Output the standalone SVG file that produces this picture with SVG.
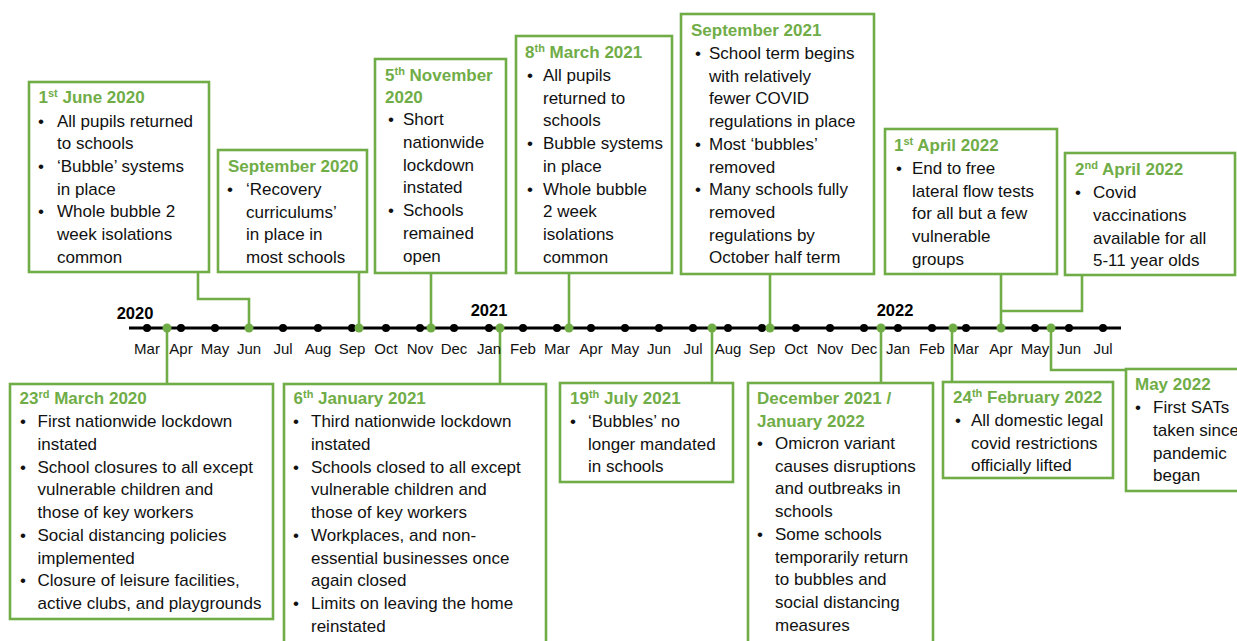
<svg xmlns="http://www.w3.org/2000/svg" width="1237" height="641" viewBox="0 0 1237 641">
  <style>
    .box { fill: #ffffff; stroke: #70AD47; stroke-width: 2.6; }
    .conn { fill: none; stroke: #70AD47; stroke-width: 2.6; }
    .axis { stroke: #000000; stroke-width: 3; }
    .tick { fill: #000000; }
    .mark { fill: #70AD47; }
    .t { font-family: "Liberation Sans", Arial, sans-serif; font-weight: bold; font-size: 17px; fill: #70AD47; }
    .b { font-family: "Liberation Sans", Arial, sans-serif; font-size: 17px; fill: #111111; }
    .dot { font-family: "Liberation Sans", Arial, sans-serif; font-size: 17px; fill: #111111; text-anchor: middle; }
    .sup { font-size: 11px; }
    .m { font-family: "Liberation Sans", Arial, sans-serif; font-size: 15px; fill: #111111; text-anchor: middle; }
    .yr { font-family: "Liberation Sans", Arial, sans-serif; font-weight: bold; font-size: 16.5px; fill: #000000; text-anchor: middle; }
  </style>

  <!-- connectors from each event box to its date on the axis -->
  <g id="connectors">
    <path class="conn" d="M198,273 V299 H249 V328"/>
    <path class="conn" d="M359,273 V328"/>
    <path class="conn" d="M431,274 V328"/>
    <path class="conn" d="M569,274 V328"/>
    <path class="conn" d="M770,275 V328"/>
    <path class="conn" d="M1001,275 V328"/>
    <path class="conn" d="M1082,276 V311 H1001"/>
    <path class="conn" d="M167,328 V383"/>
    <path class="conn" d="M500,328 V383"/>
    <path class="conn" d="M712,328 V382"/>
    <path class="conn" d="M881,328 V382"/>
    <path class="conn" d="M952,328 V381"/>
    <path class="conn" d="M1051,328 V370 H1126"/>
  </g>

  <!-- time axis -->
  <g id="axis">
    <line class="axis" x1="129" y1="328" x2="1121" y2="328"/>
    <g>
      <circle class="tick" cx="147" cy="328" r="4"/>
      <circle class="tick" cx="181" cy="328" r="4"/>
      <circle class="tick" cx="215" cy="328" r="4"/>
      <circle class="tick" cx="283" cy="328" r="4"/>
      <circle class="tick" cx="318" cy="328" r="4"/>
      <circle class="tick" cx="352" cy="328" r="4"/>
      <circle class="tick" cx="386" cy="328" r="4"/>
      <circle class="tick" cx="420" cy="328" r="4"/>
      <circle class="tick" cx="454" cy="328" r="4"/>
      <circle class="tick" cx="489" cy="328" r="4"/>
      <circle class="tick" cx="523" cy="328" r="4"/>
      <circle class="tick" cx="557" cy="328" r="4"/>
      <circle class="tick" cx="591" cy="328" r="4"/>
      <circle class="tick" cx="625" cy="328" r="4"/>
      <circle class="tick" cx="659" cy="328" r="4"/>
      <circle class="tick" cx="693" cy="328" r="4"/>
      <circle class="tick" cx="728" cy="328" r="4"/>
      <circle class="tick" cx="762" cy="328" r="4"/>
      <circle class="tick" cx="796" cy="328" r="4"/>
      <circle class="tick" cx="830" cy="328" r="4"/>
      <circle class="tick" cx="864" cy="328" r="4"/>
      <circle class="tick" cx="898" cy="328" r="4"/>
      <circle class="tick" cx="932" cy="328" r="4"/>
      <circle class="tick" cx="966" cy="328" r="4"/>
      <circle class="tick" cx="1035" cy="328" r="4"/>
      <circle class="tick" cx="1069" cy="328" r="4"/>
      <circle class="tick" cx="1103" cy="328" r="4"/>
    </g>
    <g>
      <circle class="mark" cx="167" cy="328" r="4.5"/>
      <circle class="mark" cx="249" cy="328" r="4.5"/>
      <circle class="mark" cx="359" cy="328" r="4.5"/>
      <circle class="mark" cx="431" cy="328" r="4.5"/>
      <circle class="mark" cx="500" cy="328" r="4.5"/>
      <circle class="mark" cx="569" cy="328" r="4.5"/>
      <circle class="mark" cx="712" cy="328" r="4.5"/>
      <circle class="mark" cx="770" cy="328" r="4.5"/>
      <circle class="mark" cx="881" cy="328" r="4.5"/>
      <circle class="mark" cx="953" cy="328" r="4.5"/>
      <circle class="mark" cx="1001" cy="328" r="4.5"/>
      <circle class="mark" cx="1051" cy="328" r="4.5"/>
    </g>
    <text class="yr" x="135" y="319">2020</text>
    <text class="yr" x="489" y="316">2021</text>
    <text class="yr" x="895" y="316">2022</text>
    <g>
      <text class="m" x="147" y="354">Mar</text>
      <text class="m" x="181" y="354">Apr</text>
      <text class="m" x="215" y="354">May</text>
      <text class="m" x="249" y="354">Jun</text>
      <text class="m" x="283" y="354">Jul</text>
      <text class="m" x="318" y="354">Aug</text>
      <text class="m" x="352" y="354">Sep</text>
      <text class="m" x="386" y="354">Oct</text>
      <text class="m" x="420" y="354">Nov</text>
      <text class="m" x="454" y="354">Dec</text>
      <text class="m" x="489" y="354">Jan</text>
      <text class="m" x="523" y="354">Feb</text>
      <text class="m" x="557" y="354">Mar</text>
      <text class="m" x="591" y="354">Apr</text>
      <text class="m" x="625" y="354">May</text>
      <text class="m" x="659" y="354">Jun</text>
      <text class="m" x="693" y="354">Jul</text>
      <text class="m" x="728" y="354">Aug</text>
      <text class="m" x="762" y="354">Sep</text>
      <text class="m" x="796" y="354">Oct</text>
      <text class="m" x="830" y="354">Nov</text>
      <text class="m" x="864" y="354">Dec</text>
      <text class="m" x="898" y="354">Jan</text>
      <text class="m" x="932" y="354">Feb</text>
      <text class="m" x="966" y="354">Mar</text>
      <text class="m" x="1001" y="354">Apr</text>
      <text class="m" x="1035" y="354">May</text>
      <text class="m" x="1069" y="354">Jun</text>
      <text class="m" x="1103" y="354">Jul</text>
    </g>
  </g>

  <!-- events above the axis -->
  <g id="jun-2020">
    <rect class="box" x="29" y="82" width="180" height="190"/>
    <text class="t" x="38.5" y="103">1<tspan class="sup" dy="-6">st</tspan><tspan dy="6"> June 2020</tspan></text>
    <text class="dot" x="41" y="126.5">•</text>
    <text class="b" x="57" y="126.5">All pupils returned</text>
    <text class="b" x="57" y="149.2">to schools</text>
    <text class="dot" x="41" y="171.9">•</text>
    <text class="b" x="57" y="171.9">‘Bubble’ systems</text>
    <text class="b" x="57" y="194.6">in place</text>
    <text class="dot" x="41" y="217.3">•</text>
    <text class="b" x="57" y="217.3">Whole bubble 2</text>
    <text class="b" x="57" y="240">week isolations</text>
    <text class="b" x="57" y="262.7">common</text>
  </g>

  <g id="sep-2020">
    <rect class="box" x="218" y="150" width="149" height="122"/>
    <text class="t" x="228" y="172">September 2020</text>
    <text class="dot" x="230" y="195">•</text>
    <text class="b" x="246" y="195">‘Recovery</text>
    <text class="b" x="246" y="217.7">curriculums’</text>
    <text class="b" x="246" y="240.4">in place in</text>
    <text class="b" x="246" y="263.1">most schools</text>
  </g>

  <g id="nov-2020">
    <rect class="box" x="375" y="59" width="131" height="214"/>
    <text class="t" x="385" y="81">5<tspan class="sup" dy="-6">th</tspan><tspan dy="6"> November</tspan></text>
    <text class="t" x="385" y="103">2020</text>
    <text class="dot" x="391" y="125.3">•</text>
    <text class="b" x="403" y="125.3">Short</text>
    <text class="b" x="403" y="148">nationwide</text>
    <text class="b" x="403" y="170.7">lockdown</text>
    <text class="b" x="403" y="193.4">instated</text>
    <text class="dot" x="391" y="216.1">•</text>
    <text class="b" x="403" y="216.1">Schools</text>
    <text class="b" x="403" y="238.8">remained</text>
    <text class="b" x="403" y="261.5">open</text>
  </g>

  <g id="mar-2021">
    <rect class="box" x="516" y="36" width="156" height="237"/>
    <text class="t" x="525" y="58">8<tspan class="sup" dy="-6">th</tspan><tspan dy="6"> March 2021</tspan></text>
    <text class="dot" x="530" y="81">•</text>
    <text class="b" x="543" y="81">All pupils</text>
    <text class="b" x="543" y="103.7">returned to</text>
    <text class="b" x="543" y="126.4">schools</text>
    <text class="dot" x="530" y="149.1">•</text>
    <text class="b" x="543" y="149.1">Bubble systems</text>
    <text class="b" x="543" y="171.8">in place</text>
    <text class="dot" x="530" y="194.5">•</text>
    <text class="b" x="543" y="194.5">Whole bubble</text>
    <text class="b" x="543" y="217.2">2 week</text>
    <text class="b" x="543" y="239.9">isolations</text>
    <text class="b" x="543" y="262.6">common</text>
  </g>

  <g id="sep-2021">
    <rect class="box" x="681" y="14" width="193" height="260"/>
    <text class="t" x="691" y="36">September 2021</text>
    <text class="dot" x="698" y="59">•</text>
    <text class="b" x="709" y="59">School term begins</text>
    <text class="b" x="709" y="81.7">with relatively</text>
    <text class="b" x="709" y="104.4">fewer COVID</text>
    <text class="b" x="709" y="127.1">regulations in place</text>
    <text class="dot" x="698" y="149.8">•</text>
    <text class="b" x="709" y="149.8">Most ‘bubbles’</text>
    <text class="b" x="709" y="172.5">removed</text>
    <text class="dot" x="698" y="195.2">•</text>
    <text class="b" x="709" y="195.2">Many schools fully</text>
    <text class="b" x="709" y="217.9">removed</text>
    <text class="b" x="709" y="240.6">regulations by</text>
    <text class="b" x="709" y="263.3">October half term</text>
  </g>

  <g id="apr1-2022">
    <rect class="box" x="885" y="129" width="172" height="145"/>
    <text class="t" x="894" y="151">1<tspan class="sup" dy="-6">st</tspan><tspan dy="6"> April 2022</tspan></text>
    <text class="dot" x="899" y="174">•</text>
    <text class="b" x="912" y="174">End to free</text>
    <text class="b" x="912" y="196.7">lateral flow tests</text>
    <text class="b" x="912" y="219.4">for all but a few</text>
    <text class="b" x="912" y="242.1">vulnerable</text>
    <text class="b" x="912" y="264.8">groups</text>
  </g>

  <g id="apr2-2022">
    <rect class="box" x="1065" y="153" width="170" height="122"/>
    <text class="t" x="1075" y="175">2<tspan class="sup" dy="-6">nd</tspan><tspan dy="6"> April 2022</tspan></text>
    <text class="dot" x="1078" y="198.3">•</text>
    <text class="b" x="1093" y="198.3">Covid</text>
    <text class="b" x="1093" y="221">vaccinations</text>
    <text class="b" x="1093" y="243.7">available for all</text>
    <text class="b" x="1093" y="266.4">5-11 year olds</text>
  </g>

  <!-- events below the axis -->
  <g id="mar-2020">
    <rect class="box" x="10" y="384" width="263" height="235"/>
    <text class="t" x="19.5" y="404">23<tspan class="sup" dy="-6">rd</tspan><tspan dy="6"> March 2020</tspan></text>
    <text class="dot" x="23" y="427.3">•</text>
    <text class="b" x="37.5" y="427.3">First nationwide lockdown</text>
    <text class="b" x="37.5" y="450">instated</text>
    <text class="dot" x="23" y="472.7">•</text>
    <text class="b" x="37.5" y="472.7">School closures to all except</text>
    <text class="b" x="37.5" y="495.4">vulnerable children and</text>
    <text class="b" x="37.5" y="518.1">those of key workers</text>
    <text class="dot" x="23" y="540.8">•</text>
    <text class="b" x="37.5" y="540.8">Social distancing policies</text>
    <text class="b" x="37.5" y="563.5">implemented</text>
    <text class="dot" x="23" y="586.2">•</text>
    <text class="b" x="37.5" y="586.2">Closure of leisure facilities,</text>
    <text class="b" x="37.5" y="608.9">active clubs, and playgrounds</text>
  </g>

  <g id="jan-2021">
    <rect class="box" x="284" y="384" width="262" height="280"/>
    <text class="t" x="293.5" y="404">6<tspan class="sup" dy="-6">th</tspan><tspan dy="6"> January 2021</tspan></text>
    <text class="dot" x="296" y="427.3">•</text>
    <text class="b" x="311" y="427.3">Third nationwide lockdown</text>
    <text class="b" x="311" y="450">instated</text>
    <text class="dot" x="296" y="472.7">•</text>
    <text class="b" x="311" y="472.7">Schools closed to all except</text>
    <text class="b" x="311" y="495.4">vulnerable children and</text>
    <text class="b" x="311" y="518.1">those of key workers</text>
    <text class="dot" x="296" y="540.8">•</text>
    <text class="b" x="311" y="540.8">Workplaces, and non-</text>
    <text class="b" x="311" y="563.5">essential businesses once</text>
    <text class="b" x="311" y="586.2">again closed</text>
    <text class="dot" x="296" y="608.9">•</text>
    <text class="b" x="311" y="608.9">Limits on leaving the home</text>
    <text class="b" x="311" y="631.6">reinstated</text>
  </g>

  <g id="jul-2021">
    <rect class="box" x="560" y="383" width="173" height="99"/>
    <text class="t" x="570" y="404">19<tspan class="sup" dy="-6">th</tspan><tspan dy="6"> July 2021</tspan></text>
    <text class="dot" x="573" y="427">•</text>
    <text class="b" x="588" y="427">‘Bubbles’ no</text>
    <text class="b" x="588" y="449.7">longer mandated</text>
    <text class="b" x="588" y="472.4">in schools</text>
  </g>

  <g id="dec-2021">
    <rect class="box" x="748" y="383" width="185" height="280"/>
    <text class="t" x="757" y="404">December 2021 /</text>
    <text class="t" x="757" y="426.7">January 2022</text>
    <text class="dot" x="760" y="449">•</text>
    <text class="b" x="775" y="449">Omicron variant</text>
    <text class="b" x="775" y="471.7">causes disruptions</text>
    <text class="b" x="775" y="494.4">and outbreaks in</text>
    <text class="b" x="775" y="517.1">schools</text>
    <text class="dot" x="760" y="539.8">•</text>
    <text class="b" x="775" y="539.8">Some schools</text>
    <text class="b" x="775" y="562.5">temporarily return</text>
    <text class="b" x="775" y="585.2">to bubbles and</text>
    <text class="b" x="775" y="607.9">social distancing</text>
    <text class="b" x="775" y="630.6">measures</text>
  </g>

  <g id="feb-2022">
    <rect class="box" x="943" y="382" width="170" height="96"/>
    <text class="t" x="953" y="403.3">24<tspan class="sup" dy="-6">th</tspan><tspan dy="6"> February 2022</tspan></text>
    <text class="dot" x="958" y="426">•</text>
    <text class="b" x="971" y="426">All domestic legal</text>
    <text class="b" x="971" y="448.7">covid restrictions</text>
    <text class="b" x="971" y="471.4">officially lifted</text>
  </g>

  <g id="may-2022">
    <rect class="box" x="1126" y="369" width="140" height="122"/>
    <text class="t" x="1135" y="390">May 2022</text>
    <text class="dot" x="1138" y="413.3">•</text>
    <text class="b" x="1153" y="413.3">First SATs</text>
    <text class="b" x="1153" y="436">taken since</text>
    <text class="b" x="1153" y="458.7">pandemic</text>
    <text class="b" x="1153" y="481.4">began</text>
  </g>
</svg>
